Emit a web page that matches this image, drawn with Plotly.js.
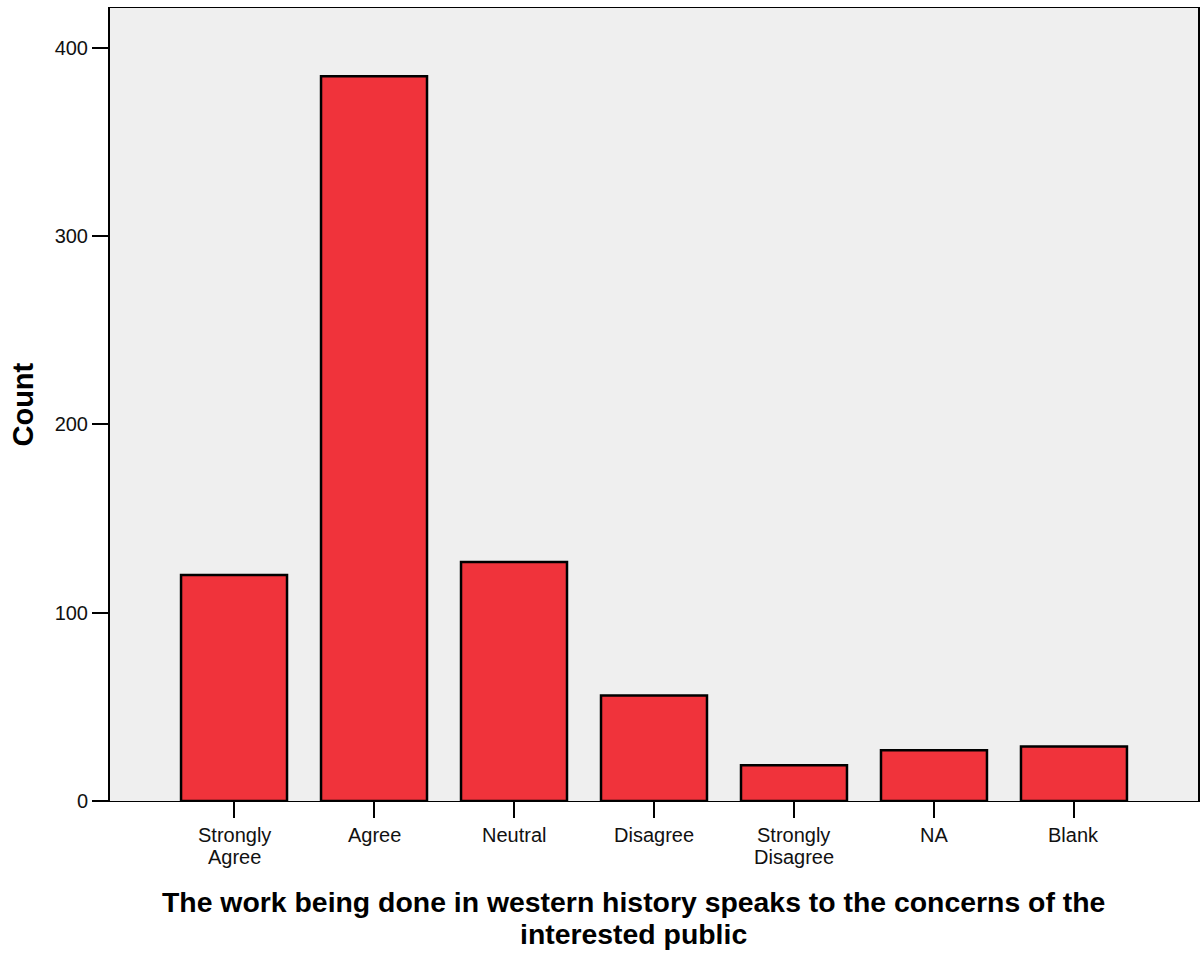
<!DOCTYPE html>
<html>
<head>
<meta charset="utf-8">
<script src="https://cdn.plot.ly/plotly-3.0.1.min.js"></script>
<style>html,body{margin:0;padding:0;background:#fff;}#chart{width:1201px;height:955px;}</style>
</head>
<body>
<div id="chart"></div>
<script>
const categories = ["Strongly Agree", "Agree", "Neutral", "Disagree", "Strongly Disagree", "NA", "Blank"];
const tickLabels = [["Strongly", "Agree"], ["Agree"], ["Neutral"], ["Disagree"], ["Strongly", "Disagree"], ["NA"], ["Blank"]];
const counts = [120, 385, 127, 56, 19, 27, 29];
const yTicks = [0, 100, 200, 300, 400];
const xTitleLines = ["The work being done in western history speaks to the concerns of the", "interested public"];
const yTitle = "Count";

const FONT = 'Liberation Sans, Arial, sans-serif';

const trace = {
  type: 'bar',
  x: categories,
  y: counts,
  width: 0.757,
  marker: {color: '#F0333B', line: {color: '#000', width: 2.5}},
  hoverinfo: 'x+y'
};

const annotations = [];
// category tick labels (two-line, tight spacing)
const tickLineShifts = [-34, -55.5];
tickLabels.forEach((lines, i) => {
  lines.forEach((ln, j) => {
    annotations.push({
      xref: 'x', yref: 'paper', x: categories[i], y: 0,
      yshift: tickLineShifts[j], xanchor: 'center', yanchor: 'middle',
      text: ln, showarrow: false, font: {family: FONT, size: 20, color: '#111'}
    });
  });
});
// x axis title
const titleShifts = [-100.5, -132.5];
xTitleLines.forEach((ln, j) => {
  annotations.push({
    xref: 'paper', yref: 'paper', x: 0.4816, y: 0,
    yshift: titleShifts[j], xanchor: 'center', yanchor: 'middle',
    text: '<b>' + ln + '</b>', showarrow: false,
    font: {family: FONT, size: 28.4, color: '#000'}
  });
});
// y axis title
annotations.push({
  xref: 'paper', yref: 'paper', x: 0, y: 0.5, xshift: -88,
  xanchor: 'center', yanchor: 'middle', textangle: -90,
  text: '<b>' + yTitle + '</b>', showarrow: false,
  font: {family: FONT, size: 29, color: '#000'}
});

const layout = {
  width: 1201, height: 955,
  margin: {l: 110, r: 3, t: 8, b: 154},
  paper_bgcolor: '#ffffff',
  plot_bgcolor: '#EFEFEF',
  font: {family: FONT, color: '#000', size: 20},
  showlegend: false,
  bargap: 0,
  xaxis: {
    type: 'category',
    range: [-0.886, 6.886],
    showgrid: false, zeroline: false,
    showline: true, linecolor: '#000', linewidth: 1, mirror: true,
    ticks: 'outside', ticklen: 16, tickwidth: 2, tickcolor: '#000',
    showticklabels: false,
    fixedrange: true
  },
  yaxis: {
    range: [0, 421.2],
    tickvals: yTicks,
    ticktext: yTicks.map(String),
    showgrid: false, zeroline: false,
    showline: true, linecolor: '#000', linewidth: 2, mirror: true,
    ticks: 'outside', ticklen: 16, tickwidth: 2, tickcolor: '#000',
    tickfont: {family: FONT, size: 20, color: '#111'},
    fixedrange: true
  },
  annotations: annotations
};

Plotly.newPlot('chart', [trace], layout, {displayModeBar: false, staticPlot: true});
</script>
</body>
</html>
